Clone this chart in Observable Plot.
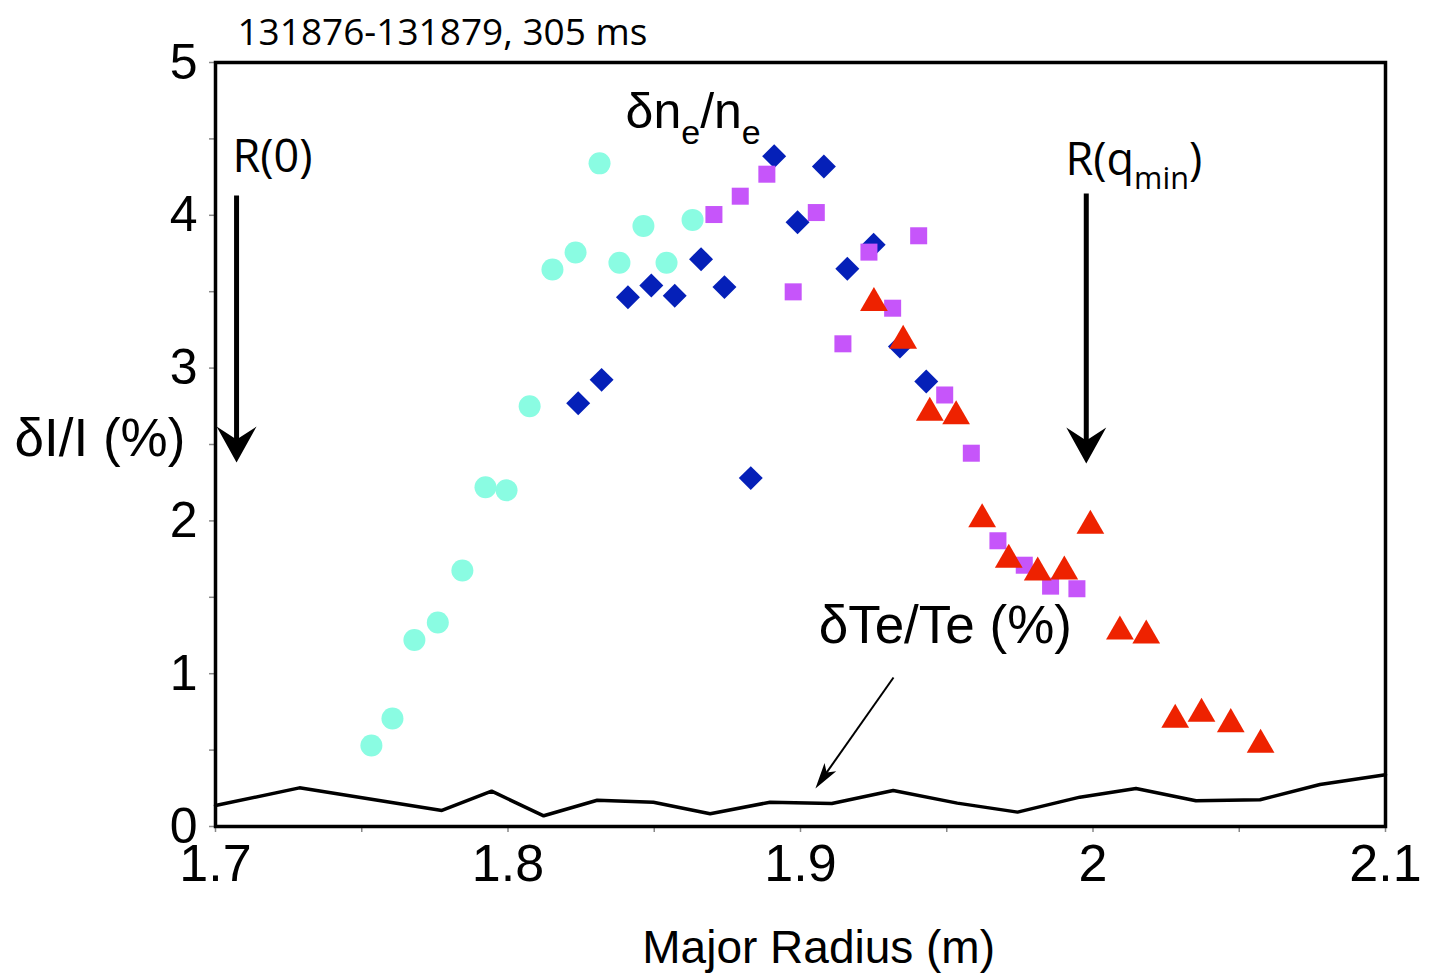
<!DOCTYPE html>
<html><head><meta charset="utf-8">
<script src="https://cdn.jsdelivr.net/npm/d3@7"></script>
<script src="https://cdn.jsdelivr.net/npm/@observablehq/plot@0.6"></script>
<style>body{margin:0;background:#fff}</style>
</head><body><div id="chart"></div>
<script>
// ---- data ----
const circleX = [1.7533,1.7605,1.7680,1.7760,1.7844,1.7923,1.7995,1.8074,1.8152,1.8231,1.8313,1.8381,1.8463,1.8542,1.8631];
const circleY = [0.53,0.707,1.22,1.335,1.675,2.22,2.20,2.75,3.645,3.757,4.34,3.69,3.93,3.69,3.97];
const diamondX = [1.824,1.832,1.841,1.849,1.857,1.866,1.874,1.883,1.891,1.899,1.908,1.916,1.925,1.934,1.943];
const diamondY = [2.770,2.923,3.464,3.541,3.473,3.713,3.53,2.28,4.387,3.955,4.319,3.65,3.807,3.141,2.912];
const squareX = [1.8704,1.8794,1.8885,1.8975,1.9054,1.9145,1.9234,1.9315,1.9404,1.9493,1.9584,1.9675,1.9765,1.9855,1.9945];
const squareY = [4.005,4.125,4.269,3.499,4.018,3.159,3.759,3.392,3.866,2.824,2.443,1.870,1.710,1.573,1.556];
const triangleX = [1.9251,1.9351,1.9442,1.9532,1.9621,1.9712,1.9811,1.9902,1.9991,2.0092,2.0182,2.0281,2.0371,2.0471,2.0573];
const triangleY = [3.426,3.179,2.708,2.685,2.011,1.745,1.662,1.669,1.968,1.276,1.250,0.698,0.738,0.670,0.535];
const teX = [1.7,1.7287,1.7774,1.7944,1.8122,1.8305,1.8497,1.8691,1.8896,1.9107,1.9317,1.9536,1.9742,1.9955,2.0147,2.0352,2.0571,2.0776,2.1];
const teY = [0.137,0.253,0.105,0.231,0.070,0.172,0.159,0.083,0.159,0.151,0.236,0.153,0.094,0.192,0.249,0.168,0.175,0.275,0.338];

const xTickValues = [1.7,1.8,1.9,2.0,2.1];
const xTickLabels = ["1.7","1.8","1.9","2","2.1"];
const xMinorTicks = [1.7,1.75,1.8,1.85,1.9,1.95,2.0,2.05,2.1];
const yTickValues = [0,1,2,3,4,5];
const yTickLabels = ["0","1","2","3","4","5"];
const yMinorTicks = [0,0.5,1,1.5,2,2.5,3,3.5,4,4.5,5];

// annotation arrows (start -> tip), data units
const arrowX1 = [1.7072,1.9977,1.9318];
const arrowY1 = [4.13,4.143,0.975];
const arrowX2 = [1.7072,1.9977,1.9051];
const arrowY2 = [2.382,2.376,0.249];
const arrowKind = ["big","big","small"];

// labels in Open Sans (title, R markers)
const sansText = ["131876-131879, 305 ms","R(0)","R(q_min)"];
const sansX = [1.7075,1.7058,1.9906];
const sansY = [5.19,4.378,4.359];
const sansSize = [37,45,45];
// labels in Liberation Sans
const helvText = ["δn_e/n_e","δTe/Te (%)"];
const helvX = [1.8402,1.9062];
const helvY = [4.673,1.315];
const helvSize = [50,53];

const yLabel = "δI/I (%)";
const xLabel = "Major Radius (m)";

// ---- layout ----
const W = 1435, H = 973, mL = 215, mR = 50, mT = 62, mB = 147;
const xs = d3.scaleLinear([1.7,2.1],[mL, W-mR]);
const ys = d3.scaleLinear([0,5],[H-mB, mT]);

const pts = (X,Y) => X.map((x,i)=>({x, y:Y[i]}));
const circles = pts(circleX,circleY), diamonds = pts(diamondX,diamondY),
      squares = pts(squareX,squareY), triangles = pts(triangleX,triangleY), te = pts(teX,teY);

const arrows = arrowX1.map((x1,i)=>{
  const px1 = xs(x1), py1 = ys(arrowY1[i]), px2 = xs(arrowX2[i]), py2 = ys(arrowY2[i]);
  const dx = px2-px1, dy = py2-py1, L = Math.hypot(dx,dy);
  const back = arrowKind[i]==="big" ? 14 : 8;
  const ex = px2 - dx/L*back, ey = py2 - dy/L*back;
  const rot = Math.atan2(dx, -dy)*180/Math.PI;
  return {x1, y1: arrowY1[i], x2: arrowX2[i], y2: arrowY2[i], ex: xs.invert(ex), ey: ys.invert(ey), rot, kind: arrowKind[i]};
});

function headSymbol(wr, hr, nr){
  return {draw(ctx, size){
    const r = Math.sqrt(size/Math.PI);
    ctx.moveTo(0,0);
    ctx.lineTo(wr*r/2, hr*r);
    ctx.lineTo(0, (hr-nr)*r);
    ctx.lineTo(-wr*r/2, hr*r);
    ctx.closePath();
  }};
}
const bigHead = headSymbol(2.22, 2, 0.72);
const smallHead = headSymbol(1.1, 2, 0.5);

const sansLabels = sansText.map((t,i)=>({t, x: sansX[i], y: sansY[i], s: sansSize[i]}));
const helvLabels = helvText.map((t,i)=>({t, x: helvX[i], y: helvY[i], s: helvSize[i]}));

const chart = Plot.plot({
  width: W, height: H,
  marginLeft: mL, marginRight: mR, marginTop: mT, marginBottom: mB,
  x: {domain: [1.7,2.1]},
  y: {domain: [0,5]},
  style: {background: "#fff", color: "#000"},
  marks: [
    Plot.axisX({ticks: xMinorTicks, tickSize: 6, tickFormat: () => "", stroke: "#888", strokeWidth: 1.5, label: null}),
    Plot.axisY({ticks: yMinorTicks, tickSize: 6, tickFormat: () => "", stroke: "#888", strokeWidth: 1.5, label: null}),
    Plot.axisX({ticks: xTickValues, tickSize: 0, tickPadding: 18, fontSize: 52, fontFamily: "Liberation Sans",
      tickFormat: d => xTickLabels[xTickValues.findIndex(v => Math.abs(v-d) < 1e-9)], label: null}),
    Plot.axisY({ticks: yTickValues, tickSize: 0, tickPadding: 18, fontSize: 50, fontFamily: "Liberation Sans",
      tickFormat: d => yTickLabels[yTickValues.indexOf(d)], label: null}),
    Plot.frame({stroke: "#000", strokeWidth: 3.5}),
    Plot.line(te, {x: "x", y: "y", stroke: "#000", strokeWidth: 3.5, strokeLinejoin: "miter"}),
    Plot.dot(circles, {x: "x", y: "y", symbol: "circle", r: 11, fill: "#8afce2"}),
    Plot.dot(diamonds, {x: "x", y: "y", symbol: "diamond2", r: 10.8, fill: "#0520b8"}),
    Plot.dot(squares, {x: "x", y: "y", symbol: "square", r: 9.6, fill: "#c655fa"}),
    Plot.dot(triangles, {x: "x", y: "y", symbol: "triangle", r: 10.3, fill: "#ee2200"}),
    Plot.link(arrows.filter(a=>a.kind==="big"), {x1: "x1", y1: "y1", x2: "ex", y2: "ey", stroke: "#000", strokeWidth: 5}),
    Plot.link(arrows.filter(a=>a.kind==="small"), {x1: "x1", y1: "y1", x2: "ex", y2: "ey", stroke: "#000", strokeWidth: 2}),
    Plot.dot(arrows.filter(a=>a.kind==="big"), {x: "x2", y: "y2", rotate: "rot", symbol: bigHead, r: 18, fill: "#000", stroke: "none"}),
    Plot.dot(arrows.filter(a=>a.kind==="small"), {x: "x2", y: "y2", rotate: "rot", symbol: smallHead, r: 13, fill: "#000", stroke: "none"}),
    Plot.text(sansLabels, {x: "x", y: "y", text: "t", textAnchor: "start", lineAnchor: "middle",
      fontSize: "s", fontFamily: "Open Sans", fill: "#000"}),
    Plot.text(helvLabels, {x: "x", y: "y", text: "t", textAnchor: "start", lineAnchor: "middle",
      fontSize: "s", fontFamily: "Liberation Sans", fill: "#000"}),
    Plot.text([yLabel], {x: [1.6313], y: [2.539], text: d => d, textAnchor: "start", lineAnchor: "middle", fontSize: 53, fontFamily: "Liberation Sans", fill: "#000"}),
    Plot.text([xLabel], {x: [1.9062], y: [-0.795], text: d => d, textAnchor: "middle", lineAnchor: "middle", fontSize: 46, fontFamily: "Liberation Sans", fill: "#000"})
  ]
});

document.getElementById("chart").append(chart);

// subscripts: "_xxx" -> lowered smaller tspan
chart.querySelectorAll("text").forEach(el => {
  const s = el.textContent;
  if (!s.includes("_")) return;
  const F = parseFloat(getComputedStyle(el).fontSize);
  const parts = s.split(/_(\w+)/);
  el.textContent = "";
  const ns = "http://www.w3.org/2000/svg";
  let shifted = false;
  parts.forEach((p, i) => {
    if (!p) return;
    const ts = document.createElementNS(ns, "tspan");
    ts.textContent = p;
    if (i % 2 === 1) {
      ts.setAttribute("font-size", (F*0.68).toFixed(1));
      ts.setAttribute("dy", (F*0.32).toFixed(1));
      shifted = true;
    } else if (shifted) {
      ts.setAttribute("dy", (-F*0.32).toFixed(1));
      shifted = false;
    }
    el.appendChild(ts);
  });
});
</script>
</body></html>
